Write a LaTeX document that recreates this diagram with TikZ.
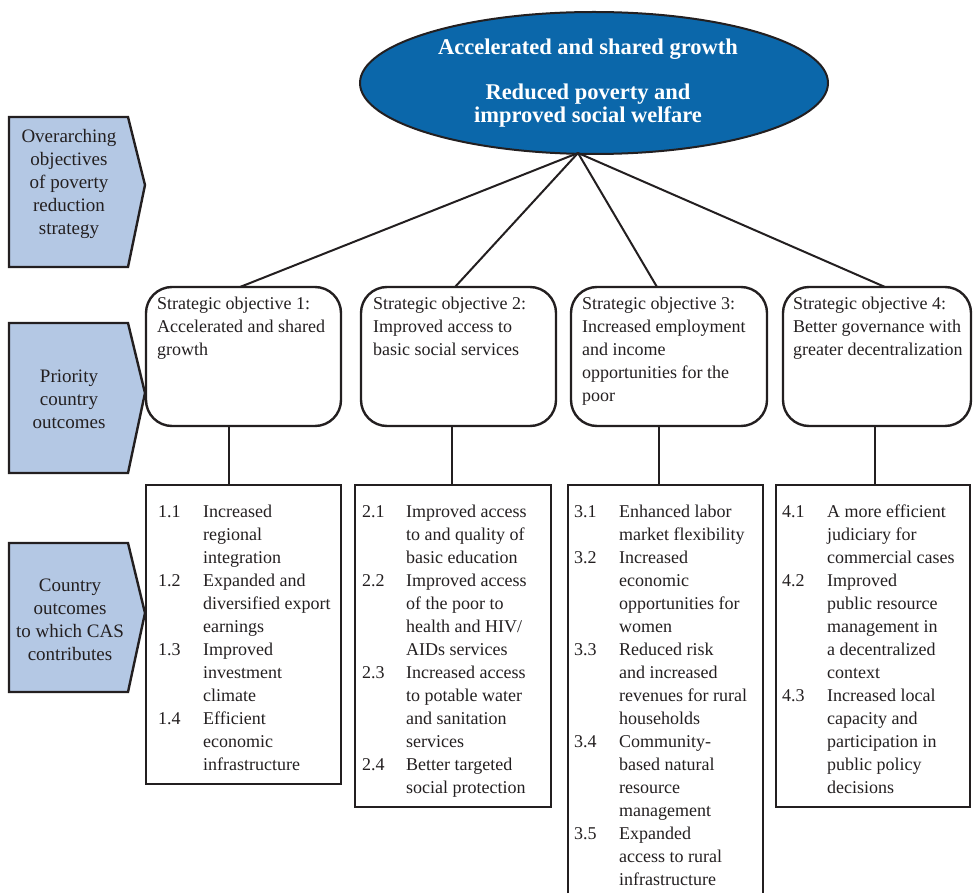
\documentclass[tikz,border=0pt]{standalone}
\usepackage{fontspec}
\setmainfont{Liberation Serif}
\usetikzlibrary{shapes.geometric}
\definecolor{ellblue}{RGB}{11,103,170}
\definecolor{lblue}{RGB}{180,200,228}
\definecolor{ink}{RGB}{35,31,32}
\begin{document}
\begin{tikzpicture}[x=1pt,y=-1pt,
  txt/.style={inner sep=0pt, font=\fontsize{18}{23}\selectfont, text=ink},
  ltxt/.style={inner sep=0pt, font=\fontsize{19}{23}\selectfont, text=ink, align=center},
  gtxt/.style={inner sep=0pt, text=white, font=\fontsize{22.5}{23}\selectfont\bfseries, align=center},
  sbox/.style={draw=ink, line width=2.4pt, rounded corners=26pt},
  obox/.style={draw=ink, line width=2.2pt},
  pent/.style={draw=ink, fill=lblue, line width=2.4pt, line join=miter},
  conn/.style={draw=ink, line width=2pt}]
\useasboundingbox (0,0) rectangle (973,893);

% left pentagons
\draw[pent] (9,117) -- (128,117) -- (145,185) -- (128,267) -- (9,267) -- cycle;
\draw[pent] (9,323) -- (128,323) -- (145,393) -- (128,473) -- (9,473) -- cycle;
\draw[pent] (9,543) -- (128,543) -- (145,613) -- (128,692) -- (9,692) -- cycle;
\node[ltxt] (p1) at (69,184) {Overarching\\objectives\\of poverty\\reduction\\strategy};
\node[ltxt] (p2) at (69,399) {Priority\\country\\outcomes};
\node[ltxt] (p3) at (70,620) {Country\\outcomes\\to which CAS\\contributes};

% ellipse
\node[ellipse, draw=ink, fill=ellblue, line width=2pt, minimum width=468pt, minimum height=142pt, inner sep=0pt] (goal) at (594,83) {};
\node[gtxt] (g1) at (588,49) {Accelerated and shared growth};
\node[gtxt] (g2) at (588,106) {Reduced poverty and\\improved social welfare};
\coordinate (apex) at (578,153);

% strategic boxes
\draw[sbox] (146,287) rectangle (341,426);
\draw[sbox] (361,287) rectangle (556,426);
\draw[sbox] (571,287) rectangle (767,426);
\draw[sbox] (783,287) rectangle (971,426);
\coordinate (s1t) at (240,287); \coordinate (s2t) at (455,287);
\coordinate (s3t) at (657,287); \coordinate (s4t) at (885,287);
\coordinate (s1b) at (229,426); \coordinate (s2b) at (452,426);
\coordinate (s3b) at (659,426); \coordinate (s4b) at (875,426);

\node[txt, anchor=north west] (st1) at (157,293) {\begin{tabular}{@{}l@{}}Strategic objective 1:\\Accelerated and shared\\growth\end{tabular}};
\node[txt, anchor=north west] (st2) at (373,293) {\begin{tabular}{@{}l@{}}Strategic objective 2:\\Improved access to\\basic social services\end{tabular}};
\node[txt, anchor=north west] (st3) at (582,293) {\begin{tabular}{@{}l@{}}Strategic objective 3:\\Increased employment\\and income\\opportunities for the\\poor\end{tabular}};
\node[txt, anchor=north west] (st4) at (793,293) {\begin{tabular}{@{}l@{}}Strategic objective 4:\\Better governance with\\greater decentralization\end{tabular}};

% outcome boxes
\draw[obox] (146,485) rectangle (341,784);
\draw[obox] (355,485) rectangle (551,807);
\draw[obox] (568,893) -- (568,485) -- (763,485) -- (763,893);
\draw[obox] (776,485) rectangle (970,807);
\coordinate (o1t) at (229,485); \coordinate (o2t) at (452,485);
\coordinate (o3t) at (659,485); \coordinate (o4t) at (875,485);

\node[txt, anchor=north west] (ot1) at (158,501) {\begin{tabular}{@{}p{45pt}@{}l@{}}
1.1 & Increased\\ & regional\\ & integration\\
1.2 & Expanded and\\ & diversified export\\ & earnings\\
1.3 & Improved\\ & investment\\ & climate\\
1.4 & Efficient\\ & economic\\ & infrastructure\end{tabular}};
\node[txt, anchor=north west] (ot2) at (362,501) {\begin{tabular}{@{}p{44pt}@{}l@{}}
2.1 & Improved access\\ & to and quality of\\ & basic education\\
2.2 & Improved access\\ & of the poor to\\ & health and HIV/\\ & AIDs services\\
2.3 & Increased access\\ & to potable water\\ & and sanitation\\ & services\\
2.4 & Better targeted\\ & social protection\end{tabular}};
\node[txt, anchor=north west] (ot3) at (574,501) {\begin{tabular}{@{}p{45pt}@{}l@{}}
3.1 & Enhanced labor\\ & market flexibility\\
3.2 & Increased\\ & economic\\ & opportunities for\\ & women\\
3.3 & Reduced risk\\ & and increased\\ & revenues for rural\\ & households\\
3.4 & Community-\\ & based natural\\ & resource\\ & management\\
3.5 & Expanded\\ & access to rural\\ & infrastructure\end{tabular}};
\node[txt, anchor=north west] (ot4) at (782,501) {\begin{tabular}{@{}p{45pt}@{}l@{}}
4.1 & A more efficient\\ & judiciary for\\ & commercial cases\\
4.2 & Improved\\ & public resource\\ & management in\\ & a decentralized\\ & context\\
4.3 & Increased local\\ & capacity and\\ & participation in\\ & public policy\\ & decisions\end{tabular}};

% connectors
\draw[conn] (apex) -- (s1t);
\draw[conn] (apex) -- (s2t);
\draw[conn] (apex) -- (s3t);
\draw[conn] (apex) -- (s4t);
\draw[conn] (s1b) -- (o1t);
\draw[conn] (s2b) -- (o2t);
\draw[conn] (s3b) -- (o3t);
\draw[conn] (s4b) -- (o4t);
\end{tikzpicture}
\end{document}
